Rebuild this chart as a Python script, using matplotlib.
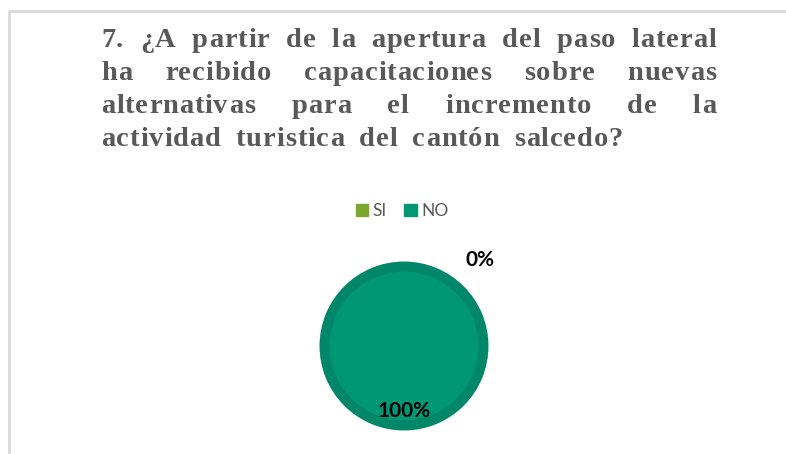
import matplotlib
matplotlib.use('Agg')
import matplotlib.pyplot as plt

categories = ['SI', 'NO']
values = [0, 100]
colors = ['#7DA82F', '#009775']
ring_color = '#00876A'

title_lines = [
    '7. ¿A partir de la apertura del paso lateral',
    'ha recibido capacitaciones sobre nuevas',
    'alternativas para el incremento de la',
    'actividad turistica del cantón salcedo?',
]

W, H = 786, 454
fig = plt.figure(figsize=(W / 100, H / 100), dpi=100)
fig.patch.set_facecolor('white')

# chart frame (only top and left edges visible)
frame = plt.Line2D([9 / W, 9 / W, 1.0], [0.0, 1 - 10.5 / H, 1 - 10.5 / H],
                   transform=fig.transFigure, color='#D9D9D9', lw=2)
fig.add_artist(frame)

# title: letter-spaced and justified by hand
renderer = fig.canvas.get_renderer()
x_left = 101
right_edges = [716, 716, 716, 623]
baselines = [47, 80, 113, 146]
spacing = 0.9
tstyle = dict(family='Liberation Serif', weight='bold', fontsize=20.5,
              color='#595959', va='baseline', ha='left')
for i, line in enumerate(title_lines):
    y = 1 - baselines[i] / H
    words = []
    for w in line.split(' '):
        chars = [fig.text(0, y, c, **tstyle) for c in w]
        cw = [c.get_window_extent(renderer).width for c in chars]
        words.append((chars, cw, sum(cw) + spacing * (len(cw) - 1)))
    gap = (right_edges[i] - x_left - sum(w[2] for w in words)) / (len(words) - 1)
    x = x_left
    for chars, cw, total in words:
        cx_ = x
        for c, w in zip(chars, cw):
            c.set_x(cx_ / W)
            cx_ += w + spacing
        x += total + gap

# pie
cx, cy, r = 404, 346, 88
half = 1.2 * r
ax = fig.add_axes([(cx - half) / W, (H - cy - half) / H, 2 * half / W, 2 * half / H])
ax.set_xlim(-1.2, 1.2)
ax.set_ylim(-1.2, 1.2)
ax.set_aspect('equal')
ax.axis('off')

ax.pie(values, colors=[ring_color, ring_color], startangle=90, counterclock=False,
       radius=1.0, wedgeprops=dict(linewidth=0))
wedges, _, autotexts = ax.pie(values, colors=colors, startangle=90, counterclock=False,
                              radius=0.88, autopct='%1.0f%%', pctdistance=0.87,
                              wedgeprops=dict(linewidth=0),
                              textprops=dict(family='Lato', weight='bold',
                                             fontsize=15, color='black'))
autotexts[0].set_position((0.9, 1.02))

# legend
handles = [plt.Rectangle((0, 0), 1, 1, color=c) for c in colors]
fig.legend(handles, categories, loc='center', bbox_to_anchor=(402 / W, 1 - 211 / H),
           ncol=2, frameon=False, handlelength=0.72, handleheight=0.72,
           handletextpad=0.25, columnspacing=1.0,
           prop=dict(family='Lato', size=12.5), labelcolor='#595959')

fig.savefig('out.png', dpi=100, facecolor='white')
